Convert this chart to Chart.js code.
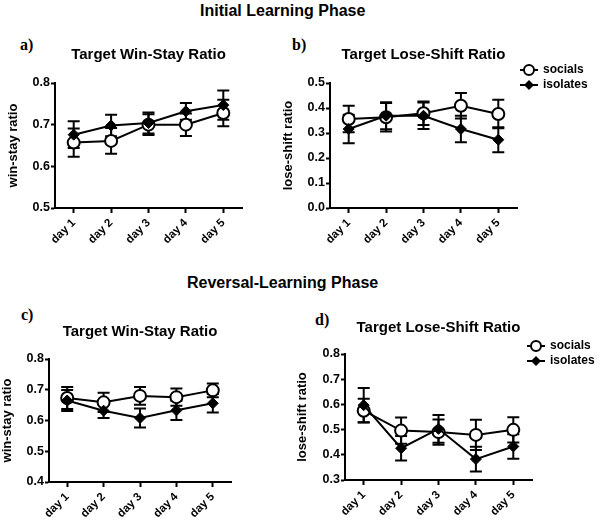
<!DOCTYPE html>
<html lang="en">
<head>
<meta charset="utf-8">
<title>Win-stay / lose-shift ratios</title>
<script src="https://cdn.jsdelivr.net/npm/chart.js@4.4.1/dist/chart.umd.min.js"></script>
<style>
  body { margin: 0; background: #fff; }
  #page { position: relative; width: 602px; height: 520px; overflow: hidden; font-family: "Liberation Sans", Arial, sans-serif; }
  canvas { position: absolute; }
  .phase { position: absolute; font-weight: bold; font-size: 16px; line-height: 16px; white-space: nowrap; }
  .tag { position: absolute; font-family: "Liberation Serif", "Times New Roman", serif; font-weight: bold; font-size: 16px; line-height: 16px; }
  .leg { position: absolute; font-weight: bold; font-size: 12px; line-height: 15px; white-space: nowrap; }
  .leg div { height: 15px; display: flex; align-items: center; }
  .leg svg { margin-right: 5px; }
</style>
</head>
<body>
<div id="page">
  <div class="phase" style="left:200px; top:3px">Initial Learning Phase</div>
  <div class="phase" style="left:187px; top:275px">Reversal-Learning Phase</div>
  <div class="tag" style="left:20px; top:37px">a)</div>
  <div class="tag" style="left:292px; top:37px">b)</div>
  <div class="tag" style="left:21px; top:307px">c)</div>
  <div class="tag" style="left:315px; top:312px">d)</div>

  <canvas id="chartA" width="250" height="215" style="left:0px; top:40px"></canvas>
  <canvas id="chartB" width="250" height="215" style="left:275px; top:40px"></canvas>
  <canvas id="chartC" width="239" height="203" style="left:0px; top:317px"></canvas>
  <canvas id="chartD" width="250" height="207" style="left:290px; top:313px"></canvas>

  <div class="leg" style="left:520px; top:62px">
    <div><svg width="18" height="14"><line x1="0" y1="7" x2="18" y2="7" stroke="#000" stroke-width="2"/><circle cx="9" cy="7" r="5" fill="#fff" stroke="#000" stroke-width="2"/></svg>socials</div>
    <div><svg width="18" height="14"><line x1="0" y1="7" x2="18" y2="7" stroke="#000" stroke-width="2"/><polygon points="9,2 14,7 9,12 4,7" fill="#000"/></svg>isolates</div>
  </div>
  <div class="leg" style="left:527px; top:338px">
    <div><svg width="18" height="14"><line x1="0" y1="7" x2="18" y2="7" stroke="#000" stroke-width="2"/><circle cx="9" cy="7" r="5" fill="#fff" stroke="#000" stroke-width="2"/></svg>socials</div>
    <div><svg width="18" height="14"><line x1="0" y1="7" x2="18" y2="7" stroke="#000" stroke-width="2"/><polygon points="9,2 14,7 9,12 4,7" fill="#000"/></svg>isolates</div>
  </div>
</div>

<script>
const days = ['day 1', 'day 2', 'day 3', 'day 4', 'day 5'];

// a) initial learning, win-stay
const winStayInitSocials = [0.657, 0.661, 0.700, 0.700, 0.728];
const winStayInitSocialsErr = [0.034, 0.031, 0.025, 0.027, 0.032];
const winStayInitIsolates = [0.676, 0.698, 0.704, 0.732, 0.747];
const winStayInitIsolatesErr = [0.032, 0.026, 0.025, 0.020, 0.035];

// b) initial learning, lose-shift
const loseShiftInitSocials = [0.356, 0.363, 0.379, 0.409, 0.376];
const loseShiftInitSocialsErr = [0.053, 0.057, 0.047, 0.051, 0.057];
const loseShiftInitIsolates = [0.316, 0.369, 0.369, 0.316, 0.273];
const loseShiftInitIsolatesErr = [0.057, 0.054, 0.053, 0.053, 0.050];

// c) reversal learning, win-stay
const winStayRevSocials = [0.673, 0.659, 0.680, 0.676, 0.698];
const winStayRevSocialsErr = [0.036, 0.031, 0.029, 0.028, 0.022];
const winStayRevIsolates = [0.665, 0.632, 0.608, 0.633, 0.656];
const winStayRevIsolatesErr = [0.034, 0.024, 0.031, 0.031, 0.030];

// d) reversal learning, lose-shift
const loseShiftRevSocials = [0.575, 0.496, 0.490, 0.479, 0.499];
const loseShiftRevSocialsErr = [0.047, 0.052, 0.050, 0.060, 0.050];
const loseShiftRevIsolates = [0.597, 0.426, 0.503, 0.383, 0.433];
const loseShiftRevIsolatesErr = [0.068, 0.049, 0.055, 0.049, 0.049];

Chart.defaults.font.family = '"Liberation Sans", Arial, sans-serif';
Chart.defaults.font.weight = 'bold';
Chart.defaults.color = '#000';

// mean +/- error bars with caps, drawn under the markers
const errorBars = {
  id: 'errorBars',
  beforeDatasetsDraw(chart) {
    const ctx = chart.ctx;
    const y = chart.scales.y;
    chart.data.datasets.forEach((ds, i) => {
      const meta = chart.getDatasetMeta(i);
      ctx.save();
      ctx.strokeStyle = '#000';
      ctx.lineWidth = 2;
      meta.data.forEach((pt, j) => {
        const top = y.getPixelForValue(ds.data[j] + ds.errors[j]);
        const bot = y.getPixelForValue(ds.data[j] - ds.errors[j]);
        ctx.beginPath();
        ctx.moveTo(pt.x, top); ctx.lineTo(pt.x, bot);
        ctx.moveTo(pt.x - 6, top); ctx.lineTo(pt.x + 6, top);
        ctx.moveTo(pt.x - 6, bot); ctx.lineTo(pt.x + 6, bot);
        ctx.stroke();
      });
      ctx.restore();
    });
  }
};

function makeChart(id, p) {
  new Chart(document.getElementById(id), {
    type: 'line',
    data: {
      labels: days,
      datasets: [{
        label: 'socials',
        data: p.socials,
        errors: p.socialsErr,
        order: 2,
        borderColor: '#000',
        borderWidth: 2,
        pointStyle: 'circle',
        pointRadius: 6,
        pointBackgroundColor: '#fff',
        pointBorderColor: '#000',
        pointBorderWidth: 2
      }, {
        label: 'isolates',
        data: p.isolates,
        errors: p.isolatesErr,
        order: 1,
        borderColor: '#000',
        borderWidth: 2,
        pointStyle: 'rectRot',
        pointRadius: 5.5,
        pointBackgroundColor: '#000',
        pointBorderColor: '#000',
        pointBorderWidth: 1
      }]
    },
    options: {
      responsive: false,
      animation: false,
      devicePixelRatio: 1,
      layout: { padding: { top: 0, left: 0, right: p.padRight, bottom: 0 } },
      plugins: {
        legend: { display: false },
        tooltip: { enabled: false },
        title: {
          display: true,
          text: p.title,
          fullSize: false,
          font: { size: 15, weight: 'bold' },
          padding: { top: p.titleTop, bottom: p.titleBottom }
        }
      },
      scales: {
        x: {
          offset: true,
          afterFit: s => { s.height = p.xHeight; },
          grid: { offset: false, drawOnChartArea: false, drawTicks: true, tickLength: 5, tickWidth: 2, tickColor: '#000' },
          border: { display: true, color: '#000', width: 2 },
          ticks: { minRotation: 45, maxRotation: 45, padding: 3, font: { size: 11.5, weight: 'bold' } }
        },
        y: {
          min: p.yMin,
          max: p.yMax,
          afterFit: s => { s.width = p.yWidth; },
          grid: { drawOnChartArea: false, drawTicks: true, tickLength: 4, tickWidth: 2, tickColor: '#000' },
          border: { display: true, color: '#000', width: 2 },
          ticks: { stepSize: 0.1, padding: 1, font: { size: 12.5, weight: 'bold' }, callback: v => v.toFixed(1) },
          title: { display: true, text: p.yTitle, font: { size: 13, weight: 'bold' }, padding: p.yTitlePad }
        }
      }
    },
    plugins: [errorBars]
  });
}

makeChart('chartA', {
  title: 'Target Win-Stay Ratio', yTitle: 'win-stay ratio', yMin: 0.5, yMax: 0.8,
  socials: winStayInitSocials, socialsErr: winStayInitSocialsErr,
  isolates: winStayInitIsolates, isolatesErr: winStayInitIsolatesErr,
  yWidth: 55, yTitlePad: 6, xHeight: 47, titleTop: 6, titleBottom: 19, padRight: 5
});
makeChart('chartB', {
  title: 'Target Lose-Shift Ratio', yTitle: 'lose-shift ratio', yMin: 0, yMax: 0.5,
  socials: loseShiftInitSocials, socialsErr: loseShiftInitSocialsErr,
  isolates: loseShiftInitIsolates, isolatesErr: loseShiftInitIsolatesErr,
  yWidth: 55, yTitlePad: 6, xHeight: 47, titleTop: 6, titleBottom: 19, padRight: 5
});
makeChart('chartC', {
  title: 'Target Win-Stay Ratio', yTitle: 'win-stay ratio', yMin: 0.4, yMax: 0.8,
  socials: winStayRevSocials, socialsErr: winStayRevSocialsErr,
  isolates: winStayRevIsolates, isolatesErr: winStayRevIsolatesErr,
  yWidth: 49, yTitlePad: 0, xHeight: 38, titleTop: 6, titleBottom: 18, padRight: 5
});
makeChart('chartD', {
  title: 'Target Lose-Shift Ratio', yTitle: 'lose-shift ratio', yMin: 0.3, yMax: 0.8,
  socials: loseShiftRevSocials, socialsErr: loseShiftRevSocialsErr,
  isolates: loseShiftRevIsolates, isolatesErr: loseShiftRevIsolatesErr,
  yWidth: 55, yTitlePad: 5, xHeight: 40, titleTop: 6, titleBottom: 17, padRight: 5
});
</script>
</body>
</html>
